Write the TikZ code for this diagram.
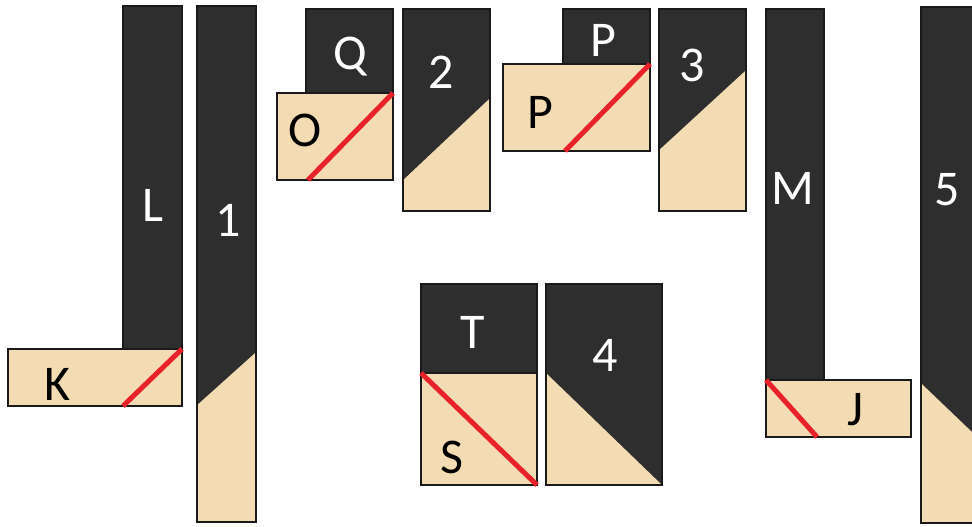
\documentclass[tikz,border=0pt]{standalone}
\usepackage{fontspec}
\setmainfont{Carlito}
\definecolor{dk}{HTML}{2E2E2E}
\definecolor{tan}{HTML}{F3DCB3}
\definecolor{edge}{HTML}{1A1A1A}
\definecolor{redl}{HTML}{E8222A}
\tikzset{
  darkpart/.style={fill=dk},
  tanpart/.style={fill=tan},
  outline/.style={draw=edge, line width=1.3pt},
  cut/.style={draw=redl, line width=5pt},
  wlab/.style={text=white, font=\fontsize{50}{50}\selectfont, inner sep=0pt},
  blab/.style={text=black, font=\fontsize{50}{50}\selectfont, inner sep=0pt}
}
\begin{document}
\begin{tikzpicture}[x=1pt,y=-1pt]
\useasboundingbox (0,0) rectangle (972,527);
\begin{scope}
\clip (0,0) rectangle (972,527);
% L and K
\fill[darkpart] (123,6) rectangle (182,349);
\draw[outline] (123,6) rectangle (182,349);
\fill[tanpart] (8,349) rectangle (182,406);
\draw[outline] (8,349) rectangle (182,406);
\draw[cut] (123,406) -- (182,349);
% bar 1
\fill[tanpart] (197,6) rectangle (256,522);
\fill[darkpart] (197,6) -- (256,6) -- (256,352) -- (197,405) -- cycle;
\draw[outline] (197,6) rectangle (256,522);
% Q and O
\fill[darkpart] (306,9) rectangle (393,93);
\draw[outline] (306,9) rectangle (393,93);
\fill[tanpart] (277,93) rectangle (393,180);
\draw[outline] (277,93) rectangle (393,180);
\draw[cut] (308,180) -- (393,93);
% bar 2
\fill[tanpart] (403,9) rectangle (490,211);
\fill[darkpart] (403,9) -- (490,9) -- (490,98) -- (403,180) -- cycle;
\draw[outline] (403,9) rectangle (490,211);
% P and P
\fill[darkpart] (563,9) rectangle (650,64);
\draw[outline] (563,9) rectangle (650,64);
\fill[tanpart] (503,64) rectangle (650,151);
\draw[outline] (503,64) rectangle (650,151);
\draw[cut] (565,151) -- (650,64);
% bar 3
\fill[tanpart] (659,9) rectangle (746,211);
\fill[darkpart] (659,9) -- (746,9) -- (746,70) -- (659,150) -- cycle;
\draw[outline] (659,9) rectangle (746,211);
% T and S
\fill[darkpart] (421,284) rectangle (537,373);
\draw[outline] (421,284) rectangle (537,373);
\fill[tanpart] (421,373) rectangle (537,485);
\draw[outline] (421,373) rectangle (537,485);
\draw[cut] (421,373) -- (537,485);
% bar 4
\fill[darkpart] (546,284) rectangle (662,485);
\fill[tanpart] (546,373) -- (662,485) -- (546,485) -- cycle;
\draw[outline] (546,284) rectangle (662,485);
% M and J
\fill[darkpart] (766,9) rectangle (824,380);
\draw[outline] (766,9) rectangle (824,380);
\fill[tanpart] (766,380) rectangle (911,437);
\draw[outline] (766,380) rectangle (911,437);
\draw[cut] (766,380) -- (817,437);
% bar 5
\fill[tanpart] (921,7) rectangle (990,523);
\fill[darkpart] (921,7) -- (990,7) -- (990,449) -- (921,383) -- cycle;
\draw[outline] (990,7) -- (921,7) -- (921,523) -- (990,523);
\end{scope}
% labels
\node[wlab] (lL) at (153,205) {L};
\node[wlab] (l1) at (228,220) {1};
\node[blab] (lK) at (57,384) {K};
\node[wlab] (lQ) at (350,57) {Q};
\node[blab] (lO) at (305,130) {O};
\node[wlab] (l2) at (441,72) {2};
\node[wlab] (lPt) at (603,40) {P};
\node[blab] (lPb) at (540,112) {P};
\node[wlab] (l3) at (692,65) {3};
\node[wlab] (lT) at (473,332) {T};
\node[wlab] (l4) at (605,355) {4};
\node[blab] (lS) at (452,457) {S};
\node[wlab] (lM) at (793,188) {M};
\node[blab] (lJ) at (855,410) {J};
\node[wlab] (l5) at (947,190) {5};
\end{tikzpicture}
\end{document}
